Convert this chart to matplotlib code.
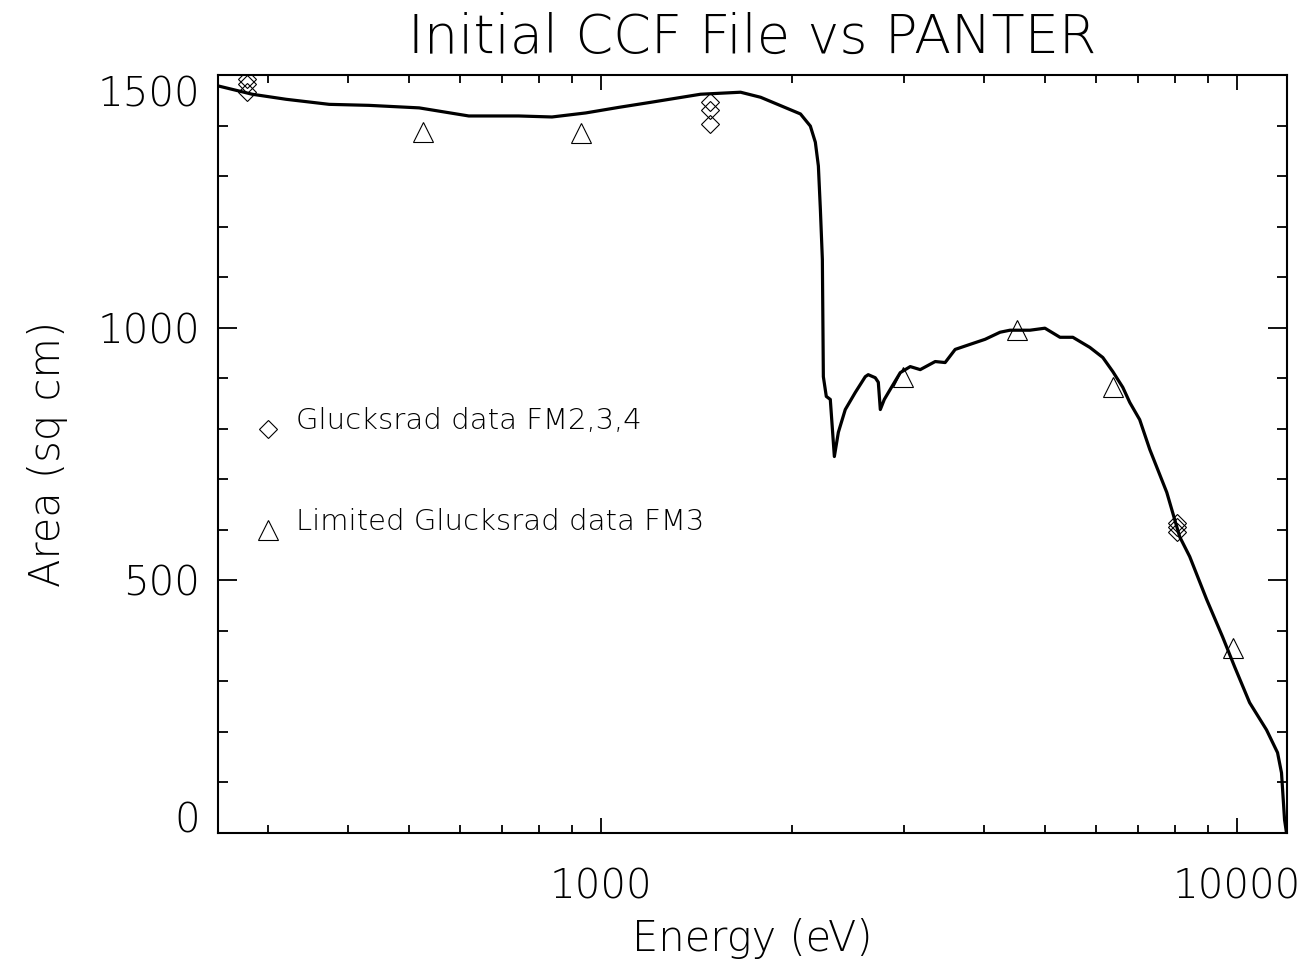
import matplotlib
matplotlib.use("Agg")
import matplotlib.pyplot as plt
from matplotlib.ticker import FixedLocator, NullFormatter, FuncFormatter

plt.rcParams['font.family'] = ['DejaVu Sans']

# CCF effective area curve (eV, sq cm)
ccf_energy = [251, 283, 320, 374, 432, 518, 620, 743, 838, 947, 1067, 1198,
              1435, 1659, 1784, 2061, 2136, 2175, 2199, 2215, 2231, 2239,
              2263, 2296, 2330, 2364, 2424, 2514, 2606, 2634, 2702, 2732,
              2752, 2792, 2853, 2958, 3067, 3180, 3357, 3480, 3609, 3809,
              4022, 4246, 4401, 4732, 4995, 5275, 5527, 5877, 6160, 6388,
              6622, 6792, 7040, 7302, 7766, 8139, 8438, 8973, 9506, 9928,
              10482, 11145, 11598, 11766, 11897, 11981]
ccf_area = [1478, 1462, 1452, 1442, 1440, 1435, 1419, 1419, 1417, 1425, 1436,
            1446, 1462, 1466, 1456, 1423, 1399, 1367, 1320, 1234, 1135, 903,
            864, 858, 745, 793, 838, 872, 903, 907, 901, 892, 838, 858, 878,
            911, 923, 917, 933, 931, 957, 967, 977, 991, 995, 995, 999, 981,
            981, 961, 941, 913, 882, 852, 818, 759, 674, 586, 547, 462, 388,
            329, 258, 204, 159, 119, 26, 0]

# Glucksrad data FM2,3,4 (diamonds)
gl_energy = [278, 278, 278, 1487, 1487, 1487, 8048, 8048, 8048]
gl_area = [1492, 1482, 1466, 1446, 1430, 1403, 614, 605, 596]

# Limited Glucksrad data FM3 (triangles)
lim_energy = [525, 930, 2984, 4510, 6400, 9886]
lim_area = [1387, 1385, 903, 995, 882, 367]

fig = plt.figure(figsize=(13.1, 9.67), dpi=100)
ax = fig.add_axes([0.1664, 0.1386, 0.8160, 0.7838])

ax.plot(ccf_energy, ccf_area, color='black', lw=2.3, solid_joinstyle='round')
ax.plot(gl_energy, gl_area, ls='none', marker='D', ms=9.5, mfc='none',
        mec='black', mew=0.8)
ax.plot(lim_energy, lim_area, ls='none', marker='^', ms=14, mfc='none',
        mec='black', mew=0.8)

# in-plot key
ax.plot([300], [800], ls='none', marker='D', ms=9.5, mfc='none', mec='black', mew=0.8)
ax.plot([300], [600], ls='none', marker='^', ms=14, mfc='none', mec='black', mew=0.8)
ax.text(332, 800, 'Glucksrad data FM2,3,4', fontsize=21, fontweight='light', va='baseline')
ax.text(332, 600, 'Limited Glucksrad data FM3', fontsize=21, fontweight='light', va='baseline')

ax.set_xscale('log')
ax.set_xlim(250, 12000)
ax.set_ylim(0, 1500)

ax.xaxis.set_major_locator(FixedLocator([1000, 10000]))
ax.xaxis.set_minor_locator(FixedLocator([300, 400, 500, 600, 700, 800, 900,
                                         2000, 3000, 4000, 5000, 6000, 7000,
                                         8000, 9000]))
ax.xaxis.set_major_formatter(FuncFormatter(lambda v, p: '%d' % v))
ax.xaxis.set_minor_formatter(NullFormatter())
ax.yaxis.set_major_locator(FixedLocator([0, 500, 1000, 1500]))
ax.yaxis.set_minor_locator(FixedLocator(range(100, 1500, 100)))

for s in ax.spines.values():
    s.set_linewidth(1.5)
ax.tick_params(which='both', direction='in', top=True, right=True, width=1.3,
               labelsize=29)
ax.tick_params(axis='x', which='major', length=11, pad=25)
ax.tick_params(axis='x', which='minor', length=5.5)
ax.tick_params(axis='y', which='major', length=14, pad=13)
ax.tick_params(axis='y', which='minor', length=7)
for lab in ax.get_xticklabels() + ax.get_yticklabels():
    lab.set_fontweight('light')
ylabs = ax.get_yticklabels()
ylabs[0].set_va('baseline')
ylabs[-1].set_va('top')

ax.set_title('Initial CCF File vs PANTER', fontsize=39, fontweight='light', pad=16)
ax.set_xlabel('Energy (eV)', fontsize=30, fontweight='light')
ax.set_ylabel('Area (sq cm)', fontsize=30, fontweight='light')
ax.xaxis.set_label_coords(0.5, -0.112)
ax.yaxis.set_label_coords(-0.14, 0.5)

plt.savefig('out.png', dpi=100)
